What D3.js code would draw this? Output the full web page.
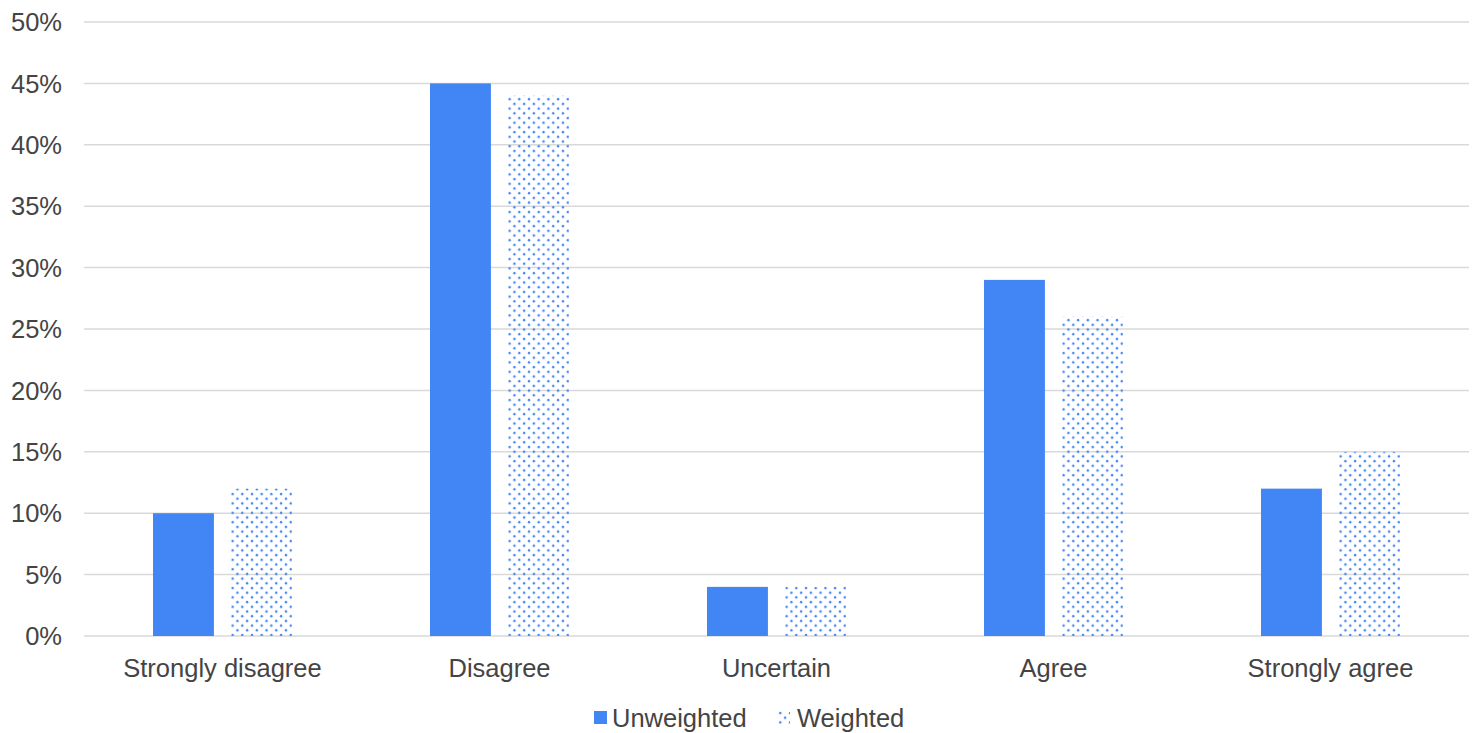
<!DOCTYPE html>
<html>
<head>
<meta charset="utf-8">
<script src="https://cdn.jsdelivr.net/npm/d3@7"></script>
<style>
  body { margin: 0; background: #fff; }
  text { font-family: "Liberation Sans", Arial, sans-serif; fill: #444; }
</style>
</head>
<body>
<div id="chart"></div>
<script>
// chart data
const categories = ["Strongly disagree", "Disagree", "Uncertain", "Agree", "Strongly agree"];
const seriesNames = ["Unweighted", "Weighted"];
const unweighted = [10, 45, 4, 29, 12];
const weighted = [12, 44, 4, 26, 15];
const yTicks = [0, 5, 10, 15, 20, 25, 30, 35, 40, 45, 50];

const blue = "#4285f4";
const fontSize = "25.5px";
const width = 1478, height = 733;
const margin = { top: 22, right: 9, bottom: 97, left: 84 };
const plotW = width - margin.left - margin.right,
  plotH = height - margin.top - margin.bottom;

const svg = d3.select("#chart")
  .append("svg")
  .attr("width", width)
  .attr("height", height);

// dotted fill for the weighted series
const defs = svg.append("defs");
const pat = defs.append("pattern")
  .attr("id", "dots")
  .attr("patternUnits", "userSpaceOnUse")
  .attr("width", 9.7)
  .attr("height", 9.4);
pat.append("circle").attr("cx", 2).attr("cy", 2).attr("r", 1.2).attr("fill", blue);
pat.append("circle").attr("cx", 6.85).attr("cy", 6.7).attr("r", 1.2).attr("fill", blue);

const g = svg.append("g")
  .attr("transform", "translate(" + margin.left + "," + margin.top + ")");

let x = d3.scaleBand()
  .domain(categories)
  .range([0, plotW])
  .paddingInner(0)
  .paddingOuter(0);

let xs = d3.scaleBand()
  .domain(seriesNames)
  .range([0, 139])
  .paddingInner(0.22);

let y = d3.scaleLinear()
  .domain([0, 50])
  .range([plotH, 0]);

// gridlines
g.append("g")
  .selectAll("line")
  .data(yTicks)
  .enter()
  .append("line")
  .attr("x1", 0)
  .attr("x2", plotW)
  .attr("y1", d => y(d))
  .attr("y2", d => y(d))
  .attr("stroke", "#d9d9d9")
  .attr("stroke-width", 1.5);

// y axis labels
g.append("g")
  .selectAll("text")
  .data(yTicks)
  .enter()
  .append("text")
  .attr("x", -22)
  .attr("y", d => y(d))
  .attr("dy", "0.36em")
  .attr("text-anchor", "end")
  .style("font-size", fontSize)
  .text(d => d + "%");

// bars
const rows = categories.map((c, i) => ({ cat: c, vals: [unweighted[i], weighted[i]] }));
const groups = g.append("g")
  .selectAll("g")
  .data(rows)
  .enter()
  .append("g")
  .attr("transform", d => "translate(" + (x(d.cat) + x.bandwidth() / 2 - 69.5) + ",0)");

groups.selectAll("rect")
  .data(d => d.vals.map((v, j) => ({ s: seriesNames[j], v: v })))
  .enter()
  .append("rect")
  .attr("x", d => xs(d.s))
  .attr("width", xs.bandwidth())
  .attr("y", d => y(d.v))
  .attr("height", d => y(0) - y(d.v))
  .attr("fill", d => d.s === "Unweighted" ? blue : "url(#dots)");

// category labels
g.append("g")
  .selectAll("text")
  .data(categories)
  .enter()
  .append("text")
  .attr("x", d => x(d) + x.bandwidth() / 2)
  .attr("y", plotH + 41)
  .attr("text-anchor", "middle")
  .style("font-size", fontSize)
  .text(d => d);

// legend
const legend = svg.append("g").attr("transform", "translate(594,711)");
legend.append("rect")
  .attr("width", 13).attr("height", 13)
  .attr("fill", blue);
legend.append("text")
  .attr("x", 18).attr("y", 16)
  .style("font-size", fontSize)
  .text(seriesNames[0]);
legend.append("rect")
  .attr("x", 183).attr("width", 13).attr("height", 13)
  .attr("fill", "url(#dots)");
legend.append("text")
  .attr("x", 203).attr("y", 16)
  .style("font-size", fontSize)
  .text(seriesNames[1]);
</script>
</body>
</html>
